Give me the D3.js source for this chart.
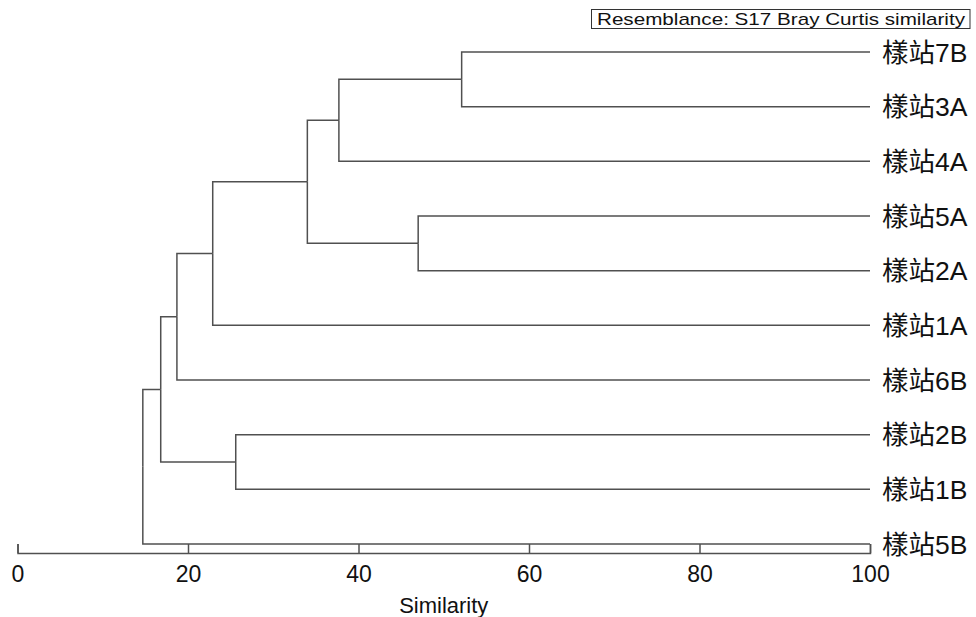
<!DOCTYPE html>
<html>
<head>
<meta charset="utf-8">
<script src="https://cdn.jsdelivr.net/npm/d3@7"></script>
<style>
	body { margin: 0; background: #fff; }
	svg text { fill: #111; }
</style>
</head>
<body>
<div id="chart"></div>
<script>
'use strict';

// leaf order, top to bottom
const leafNames = ["樣站7B", "樣站3A", "樣站4A", "樣站5A", "樣站2A", "樣站1A", "樣站6B", "樣站2B", "樣站1B", "樣站5B"];

// merges: id, two children, similarity at which they join
const joinIds  = ["n1", "n2", "n3", "n4", "n5", "n6", "n7", "n8", "n9"];
const joinA    = ["樣站7B", "n1", "樣站5A", "n2", "n4", "n5", "樣站2B", "n6", "n8"];
const joinB    = ["樣站3A", "樣站4A", "樣站2A", "n3", "樣站1A", "樣站6B", "樣站1B", "n7", "樣站5B"];
const joinSim  = [52.1, 37.7, 47.0, 34.0, 22.9, 18.7, 25.6, 16.8, 14.7];

const tickValues = [0, 20, 40, 60, 80, 100];
const axisTitle  = "Similarity";
const legendText = "Resemblance: S17 Bray Curtis similarity";


const buildTree = () =>
{
	const nodes = {};
	leafNames.forEach(name => nodes[name] = { name: name, sim: 100 });
	joinIds.forEach((id, i) =>
	{
		nodes[id] = { name: id, sim: joinSim[i], children: [nodes[joinA[i]], nodes[joinB[i]]] };
	});
	return d3.hierarchy(nodes[joinIds[joinIds.length - 1]]);
};


const drawChart = () =>
{
	const width  = 976;
	const height = 617;
	const axisY  = 553;

	const x = d3.scaleLinear().domain([0, 100]).range([17.5, 870]);
	const y = d3.scalePoint().domain(leafNames).range([52, 544]);

	const svg = d3.select("#chart")
		.append("svg")
		.attr("width", width)
		.attr("height", height);

	const root = buildTree();

	// positions: leaves from point scale, parents at mean of children
	root.eachAfter(node =>
	{
		node.px = x(node.data.sim);
		node.py = node.children ? d3.mean(node.children, c => c.py) : y(node.data.name);
	});

	const links = svg.append("g")
		.attr("fill", "none")
		.attr("stroke", "#505050")
		.attr("stroke-width", 1.5);

	links.selectAll("path")
		.data(root.links())
		.enter()
			.append("path")
			.attr("d", l => "M" + l.source.px + "," + l.source.py +
				"V" + l.target.py + "H" + l.target.px);

	svg.append("g")
		.selectAll("text")
		.data(root.leaves())
		.enter()
			.append("text")
			.attr("x", 882)
			.attr("y", d => d.py)
			.attr("dy", "0.36em")
			.style("font-family", "'Liberation Sans', 'Noto Sans CJK TC', sans-serif")
			.style("font-size", "26.5px")
			.text(d => d.data.name);

	const axis = svg.append("g")
		.attr("transform", "translate(0," + axisY + ")")
		.call(d3.axisBottom(x).tickValues(tickValues).tickSize(-9).tickPadding(13));

	axis.selectAll("path, line").attr("stroke", "#505050").attr("stroke-width", 1.5);
	axis.selectAll("text")
		.style("font-family", "'Liberation Sans', sans-serif")
		.style("font-size", "23px")
		.attr("fill", "#111");

	svg.append("text")
		.attr("x", x(50))
		.attr("y", 613)
		.attr("text-anchor", "middle")
		.style("font-family", "'Liberation Sans', sans-serif")
		.style("font-size", "22px")
		.text(axisTitle);

	// legend box, top right
	const legend = svg.append("g");
	legend.append("rect")
		.attr("x", 591.5)
		.attr("y", 9.5)
		.attr("width", 970 - 591.5)
		.attr("height", 19)
		.attr("fill", "#fff")
		.attr("stroke", "#333")
		.attr("stroke-width", 1);
	legend.append("text")
		.attr("x", 597)
		.attr("y", 25)
		.attr("textLength", 368)
		.attr("lengthAdjust", "spacingAndGlyphs")
		.style("font-family", "'Liberation Sans', sans-serif")
		.style("font-size", "17px")
		.text(legendText);
};


document.addEventListener("DOMContentLoaded", () =>
{
	drawChart();
}, false);
</script>
</body>
</html>
